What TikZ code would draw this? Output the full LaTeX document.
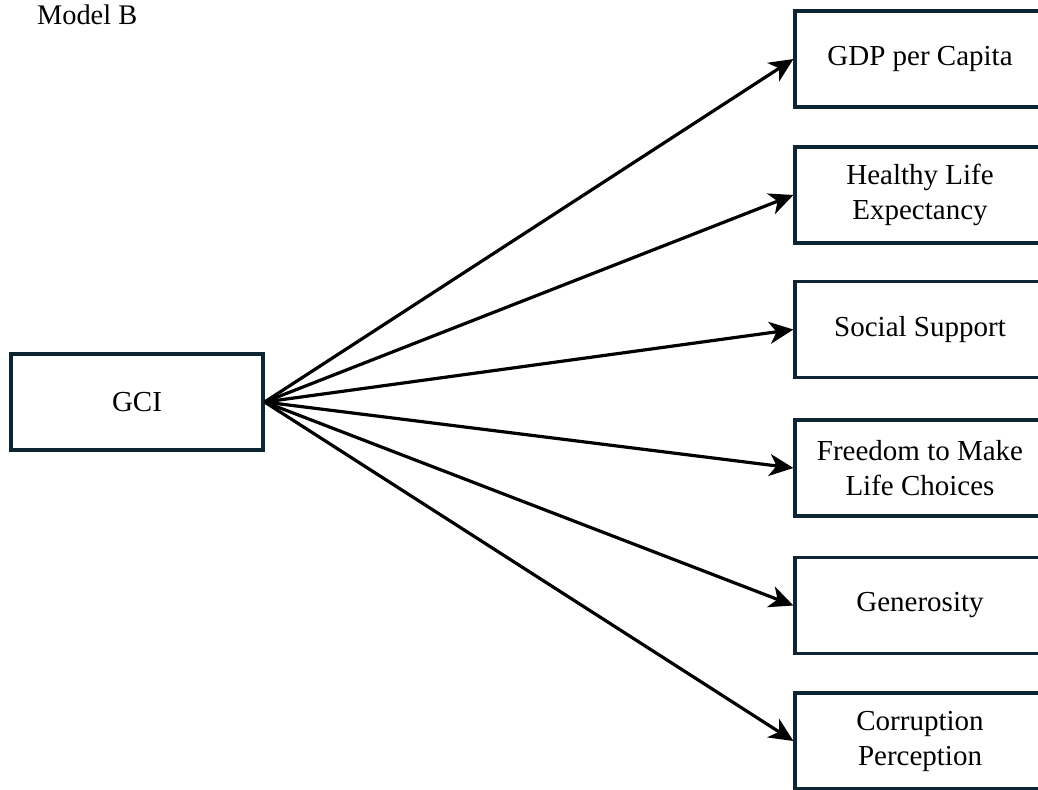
\documentclass[tikz,border=0pt]{standalone}
\usepackage{fontspec}
\setmainfont{Liberation Serif}
\usetikzlibrary{arrows.meta}
\definecolor{boxline}{RGB}{14,38,52}
\begin{document}
\begin{tikzpicture}[x=0.5pt,y=-0.5pt,
  varbox/.style={draw=boxline, line width=1.6pt, rectangle, inner sep=0pt,
    minimum height=48pt, align=center,
    font=\fontsize{14.5}{17.5}\selectfont},
  outbox/.style={varbox, minimum width=125pt},
  path/.style={line width=1.6pt, -{Stealth[length=12pt,width=11pt,inset=3.5pt]}}]
\useasboundingbox (0,0) rectangle (1038,789);
\clip (0,0) rectangle (1038,789);
\node[anchor=base west, font=\fontsize{14.2}{17}\selectfont] (title) at (30,24) {Model B};
\node[varbox, minimum width=126pt] (gci) at (137,402) {GCI};
\node[outbox] (gdp) at (920,59) {\raisebox{-1.5pt}{GDP per Capita}};
\node[outbox] (hle) at (920,195) {Healthy Life\\Expectancy};
\node[outbox] (ss) at (920,329.5) {\raisebox{-1.5pt}{Social Support}};
\node[outbox] (fm) at (920,468) {Freedom to Make\\Life Choices};
\node[outbox] (gen) at (920,605.5) {\raisebox{-1.5pt}{Generosity}};
\node[outbox] (cp) at (920,741) {Corruption\\Perception};
\foreach \t in {gdp,hle,ss,fm,gen,cp}
  \draw[path] (gci.east) -- (\t.west);
\end{tikzpicture}
\end{document}
